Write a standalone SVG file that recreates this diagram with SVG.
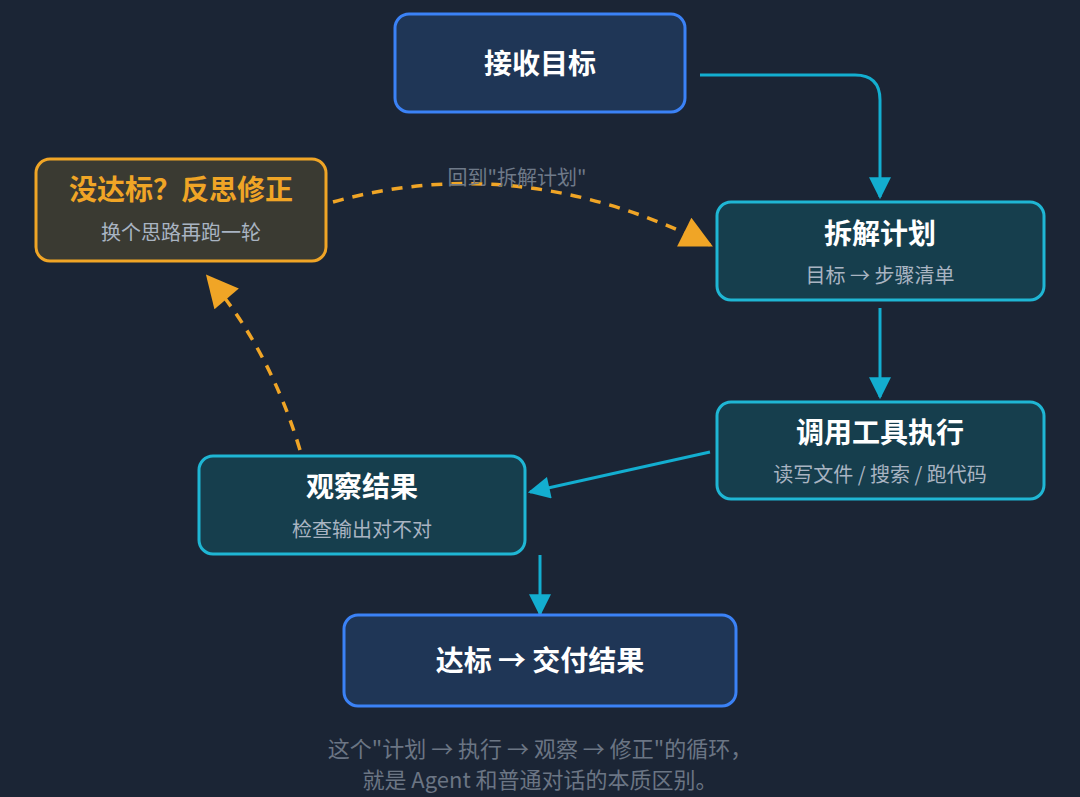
<svg xmlns="http://www.w3.org/2000/svg" width="1080" height="797" viewBox="0 0 1080 797">
<style>
text{font-family:"Noto Sans CJK SC","Noto Sans",sans-serif;text-anchor:middle}
.t{font-size:28px;font-weight:bold;fill:#fff}
.s{font-size:20px;fill:#a9b4c2}
.blue{fill:#1f3656;stroke:#3b82f6;stroke-width:3}
.cyan{fill:#163e4d;stroke:#1fb6d4;stroke-width:3}
.org{fill:#3a3a32;stroke:#f0a526;stroke-width:3}
.c{fill:none;stroke:#13aed0;stroke-width:3}
.d{fill:none;stroke:#f0a526;stroke-width:3.5;stroke-dasharray:11 9}
</style>
<defs>
<marker id="ac" viewBox="0 0 10 10" refX="9" refY="5" markerWidth="24" markerHeight="22" markerUnits="userSpaceOnUse" orient="auto"><path d="M0 0L10 5L0 10z" fill="#13aed0"/></marker>
<marker id="ao" viewBox="0 0 10 10" refX="9" refY="5" markerWidth="36" markerHeight="32" markerUnits="userSpaceOnUse" orient="auto"><path d="M0 0L10 5L0 10z" fill="#f0a526"/></marker>
</defs>
<rect width="1080" height="797" fill="#1b2535"/>
<g id="connectors">
<path class="c" d="M700 75H855Q880 75 880 100V197" style="marker-end:url(#ac)"/>
<path class="c" d="M880 308V397" style="marker-end:url(#ac)"/>
<path class="c" d="M710 452L530 492" style="marker-end:url(#ac)"/>
<path class="c" d="M540 555V614" style="marker-end:url(#ac)"/>
<path class="d" d="M300 450Q270 350 208 277" style="marker-end:url(#ao)"/>
<path class="d" d="M333 202Q520 150 710 245" style="marker-end:url(#ao)"/>
<text x="517" y="185" style="font-size:20px;fill:#6f7a89">回到"拆解计划"</text>
</g>
<g id="n1"><rect class="blue" x="395" y="14" width="290" height="98" rx="14"/><text class="t" x="540" y="74">接收目标</text></g>
<g id="n2"><rect class="cyan" x="717" y="202" width="327" height="98" rx="14"/><text class="t" x="880" y="244">拆解计划</text><text class="s" x="880" y="283">目标 → 步骤清单</text></g>
<g id="n3"><rect class="cyan" x="717" y="402" width="327" height="97" rx="14"/><text class="t" x="880" y="443">调用工具执行</text><text class="s" x="880" y="482">读写文件 / 搜索 / 跑代码</text></g>
<g id="n4"><rect class="cyan" x="199" y="456" width="326" height="98" rx="14"/><text class="t" x="362" y="497">观察结果</text><text class="s" x="362" y="537">检查输出对不对</text></g>
<g id="n5"><rect class="org" x="36" y="159" width="290" height="102" rx="14"/><text class="t" x="181" y="200" style="fill:#f0a526">没达标？反思修正</text><text class="s" x="181" y="240">换个思路再跑一轮</text></g>
<g id="n6"><rect class="blue" x="344" y="615" width="392" height="91" rx="14"/><text class="t" x="540" y="671">达标 → 交付结果</text></g>
<text x="540" y="757" style="font-size:22px;fill:#6b7584">这个"计划 → 执行 → 观察 → 修正"的循环，</text>
<text x="540" y="788" style="font-size:22px;fill:#6b7584">就是 Agent 和普通对话的本质区别。</text>
</svg>
